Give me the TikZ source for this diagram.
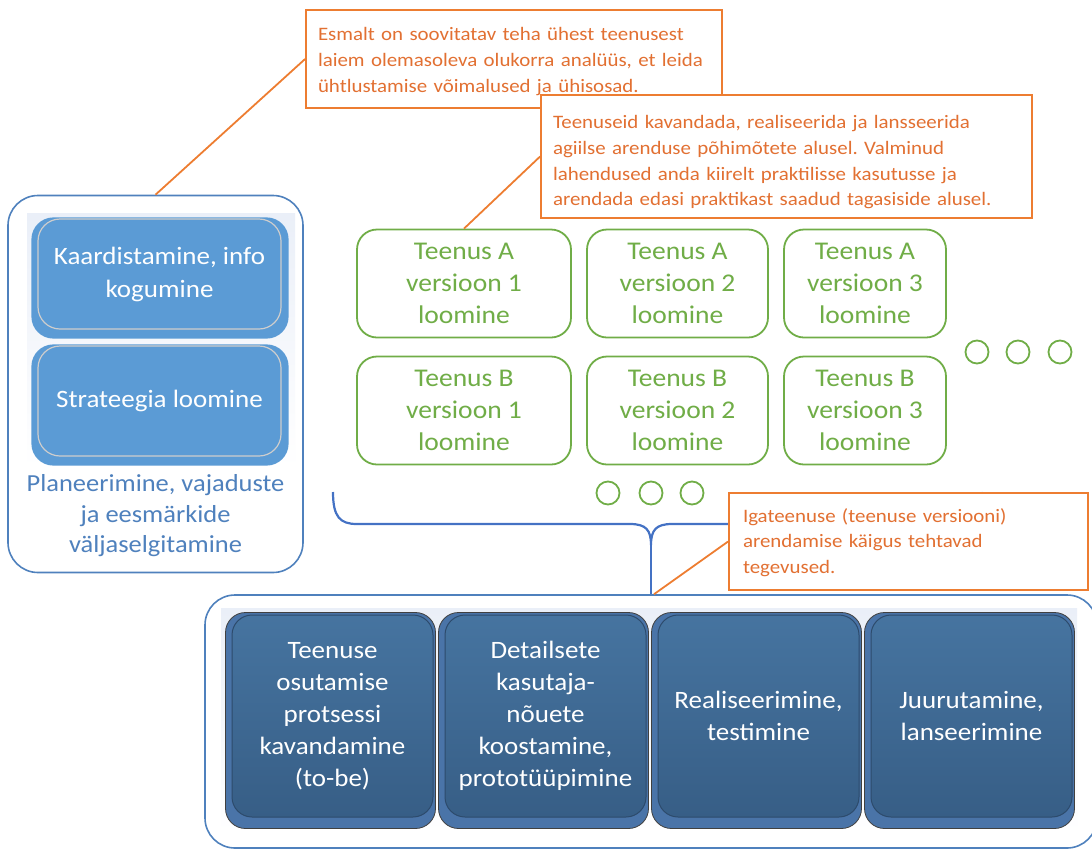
\documentclass[tikz,border=0pt]{standalone}
\usepackage{fontspec}
\setmainfont{Carlito}[FakeStretch=1.08]
\newfontfamily\notefont{Carlito}[FakeStretch=1.1]
\definecolor{frameblue}{RGB}{79,129,189}
\definecolor{bracecol}{RGB}{68,114,196}
\definecolor{labelblue}{RGB}{79,129,189}
\definecolor{planfill}{RGB}{91,155,213}
\definecolor{planedge}{RGB}{205,205,205}
\definecolor{leafgreen}{RGB}{112,173,71}
\definecolor{noteorange}{RGB}{237,125,49}
\definecolor{notetext}{RGB}{226,112,50}
\definecolor{stepTop}{RGB}{70,116,160}
\definecolor{stepBot}{RGB}{55,94,134}
\definecolor{stepBase}{RGB}{74,116,168}
\definecolor{stepEdge}{RGB}{45,75,108}
\definecolor{tint}{RGB}{234,239,248}
\pgfdeclarelayer{back}
\pgfdeclarelayer{mid}
\pgfsetlayers{back,mid,main}
\begin{document}
\frenchspacing
\begin{tikzpicture}[x=1pt,y=-1pt,
  frame/.style={rectangle, draw=frameblue, line width=1.6pt, rounded corners=30pt, fill=white, inner sep=0pt},
  planbox/.style={rectangle, rounded corners=22pt, fill=planfill, draw=planedge, line width=1.2pt,
    text=white, font=\fontsize{25}{33}\selectfont, align=center,
    minimum width=243pt, minimum height=110pt, inner sep=0pt},
  planbase/.style={fill=planfill, rounded corners=22pt},
  verbox/.style={rectangle, rounded corners=20pt, draw=leafgreen, line width=1.8pt, fill=white,
    text=leafgreen, font=\fontsize{25.5}{32}\selectfont, align=center,
    minimum height=108pt, inner sep=0pt},
  dots/.style={circle, draw=leafgreen, line width=1.8pt, minimum size=23pt, inner sep=0pt},
  note/.style={rectangle, draw=noteorange, line width=1.8pt, fill=white, text=notetext,
    font=\notefont\fontsize{19}{25.7}\selectfont, align=left, inner xsep=12pt, inner ysep=0pt},
  notelink/.style={draw=noteorange, line width=1.8pt},
  stepbox/.style={rectangle, rounded corners=20pt, top color=stepTop, bottom color=stepBot,
    draw=stepEdge, line width=1pt, text=white, font=\fontsize{25}{32}\selectfont, align=center,
    minimum width=201pt, minimum height=202pt, inner sep=0pt},
  stepbase/.style={fill=stepBase, draw=black!75, line width=0.8pt, rounded corners=20pt},
]
\useasboundingbox (0,0) rectangle (1092,849);

% containers and their soft backgrounds
\begin{pgfonlayer}{back}
  \node[frame, minimum width=295pt, minimum height=377pt] (plan) at (155.5,384) {};
  \node[frame, minimum width=892pt, minimum height=253pt] (dev) at (651,721.5) {};
  \shade[top color=tint, bottom color=white] (27,213) rectangle (295,468);
  \shade[top color=tint, bottom color=white] (221,608) rectangle (1077,832);
\end{pgfonlayer}

% planning stage
\node[planbox] (map) at (159.5,274) {Kaardistamine, info\\kogumine};
\node[planbox] (strat) at (159.5,401) {Strateegia loomine};
\node[text=labelblue, font=\fontsize{24.5}{30.5}\selectfont, align=center] (planlbl) at (155.5,516)
  {Planeerimine, vajaduste\\ja eesmärkide\\väljaselgitamine};

% service versions
\node[verbox, minimum width=214pt] (A1) at (464,283.5) {Teenus A\\versioon 1\\loomine};
\node[verbox, minimum width=181pt] (A2) at (677.5,283.5) {Teenus A\\versioon 2\\loomine};
\node[verbox, minimum width=162pt] (A3) at (865,283.5) {Teenus A\\versioon 3\\loomine};
\node[verbox, minimum width=214pt] (B1) at (464,410.5) {Teenus B\\versioon 1\\loomine};
\node[verbox, minimum width=181pt] (B2) at (677.5,410.5) {Teenus B\\versioon 2\\loomine};
\node[verbox, minimum width=162pt] (B3) at (865,410.5) {Teenus B\\versioon 3\\loomine};

\node[dots] (r1) at (977,352) {};
\node[dots] (r2) at (1018,352) {};
\node[dots] (r3) at (1060,352) {};
\node[dots] (d1) at (608,493) {};
\node[dots] (d2) at (651,493) {};
\node[dots] (d3) at (692,493) {};

% development steps
\node[stepbox] (s1) at (332.5,716) {Teenuse\\osutamise\\protsessi\\kavandamine\\(to-be)};
\node[stepbox] (s2) at (545.5,716) {Detailsete\\kasutaja-\\nõuete\\koostamine,\\prototüüpimine};
\node[stepbox] (s3) at (758.5,716) {Realiseerimine,\\testimine};
\node[stepbox] (s4) at (971.5,716) {Juurutamine,\\lanseerimine};

\begin{pgfonlayer}{mid}
  \foreach \b in {map,strat}
    \path[planbase] ([xshift=-6pt,yshift=1pt]\b.north west) rectangle ([xshift=7pt,yshift=-9pt]\b.south east);
  \foreach \b in {s1,s2,s3,s4}
    \path[stepbase] ([xshift=-6pt,yshift=2pt]\b.north west) rectangle ([xshift=2pt,yshift=-11pt]\b.south east);
\end{pgfonlayer}

% brace gathering the versions
\coordinate (bracetip) at (651,545);
\draw[bracecol, line width=2.2pt]
  (333,492) .. controls (333,517) and (340,524) .. (357,524) -- (630,524)
  .. controls (646,524) and (651,530) .. (bracetip)
  .. controls (651,530) and (656,524) .. (672,524) -- (962,524)
  .. controls (978,524) and (983,517) .. (983,492);
\draw[bracecol, line width=2.2pt] (bracetip) -- (bracetip |- dev.north);

% callouts (the invisible rules set the height of the first text line)
\node[note, text width=392pt, minimum height=98pt] (note1) at (514,59)
  {\rule{0pt}{18pt}Esmalt on soovitatav teha ühest teenusest\\laiem olemasoleva olukorra analüüs, et leida\\ühtlustamise võimalused ja ühisosad.};
\node[note, text width=467pt, minimum height=123pt] (note2) at (786.5,156.5)
  {\rule{0pt}{25pt}Teenuseid kavandada, realiseerida ja lansseerida\\agiilse arenduse põhimõtete alusel. Valminud\\lahendused anda kiirelt praktilisse kasutusse ja\\arendada edasi praktikast saadud tagasiside alusel.};
\node[note, inner xsep=14pt, text width=331pt, minimum height=97pt] (note3) at (908.5,541.5)
  {\rule{0pt}{16pt}Igateenuse (teenuse versiooni)\\arendamise käigus tehtavad\\tegevused.};

\draw[notelink] (note1.west) -- (plan.north);
\draw[notelink] (note2.west) -- (A1.north);
\draw[notelink] (note3.west) -- ([xshift=3pt]dev.north);
\end{tikzpicture}
\end{document}
